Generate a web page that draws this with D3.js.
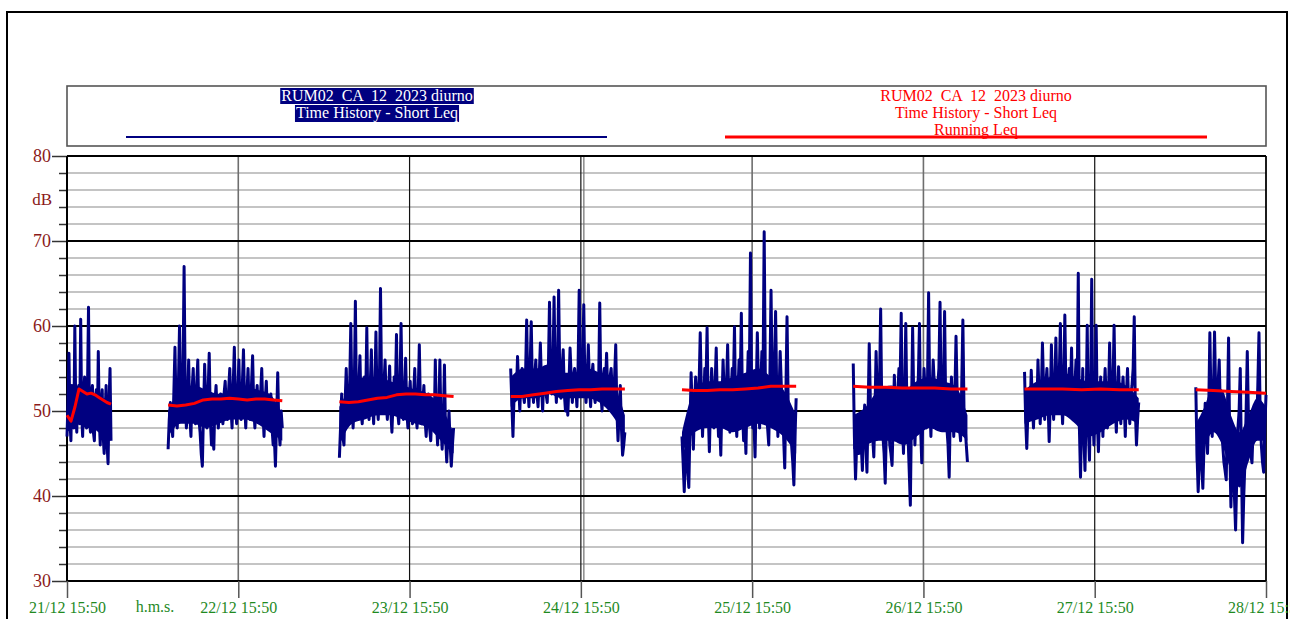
<!DOCTYPE html>
<html>
<head>
<meta charset="utf-8">
<script src="https://cdn.jsdelivr.net/npm/d3@7"></script>
<style>
body { margin: 0; background: #fff; }
svg { display: block; font-family: "Liberation Serif", "Times New Roman", serif; }
</style>
</head>
<body>
<div class="svg-container"></div>
<script>
// day periods (06:00-22:00), first and last cut by the measure window
var segStarts = ["2023-12-21 15:50", "2023-12-22 06:00", "2023-12-23 06:00", "2023-12-24 06:00",
                 "2023-12-25 06:00", "2023-12-26 06:00", "2023-12-27 06:00", "2023-12-28 06:00"];
var segEnds   = ["2023-12-21 22:00", "2023-12-22 22:00", "2023-12-23 22:00", "2023-12-24 22:00",
                 "2023-12-25 22:00", "2023-12-26 22:00", "2023-12-27 22:00", "2023-12-28 15:50"];

// Short Leq, dB
var shortLeq1 = [47, 51, 56.8, 49, 46.5, 53, 52, 48, 60, 50, 47.5, 52.5, 53, 48.5, 60.8, 49.5, 47, 52, 54, 48.5, 48, 53, 62.2, 49,
                 47.5, 52, 53, 47.5, 46.5, 51.5, 52.5, 48, 57, 49, 46, 51, 52.5, 47, 45, 50, 53, 46, 43.8, 51, 55, 46.5];
var shortLeq2 = [45.5, 49, 51, 48.5, 47, 52, 57.5, 50, 48, 53, 60, 51, 49, 54, 67, 52, 48, 51, 56, 49.5, 47, 52.5, 55, 50, 48.5,
                 53, 56, 49, 47.5, 45, 43.5, 50, 55.5, 51, 48, 52, 56.8, 49, 46, 48, 45.5, 51, 53, 49.5, 48, 51.5, 52, 50, 48.5, 52,
                 53.5, 50, 49, 52.5, 55, 50.5, 48, 53, 57.5, 51, 48.5, 52, 56, 50, 49, 53, 57.2, 51, 48, 52, 55, 50, 49, 53, 56.5,
                 50.5, 48, 51, 53, 49.5, 49, 52, 55, 50, 47, 51, 53.5, 49, 48, 51, 52, 48, 46, 47, 43.5, 49, 54.5, 48, 46, 50, 48];
var shortLeq3 = [44.5, 48, 52, 47, 46, 51, 55, 50, 49, 53, 60.3, 51, 48, 52, 62.9, 50, 49, 53, 56.5, 50, 48.5, 52, 54, 51, 59.8,
                 50, 49, 53, 57.2, 51, 48.5, 52.5, 59.3, 51, 49, 53, 64.4, 52, 50, 53, 56, 51, 49, 52, 55.3, 50, 47.5, 51, 54, 52,
                 59, 50, 48.5, 53, 60.3, 51, 49, 52, 56.2, 50, 48, 51, 53.5, 50, 48.5, 52, 55, 50, 48, 52, 57.8, 50, 48.5, 51, 53,
                 49, 47, 50, 52, 48, 46.5, 50, 51, 48, 56, 49, 46, 50, 56, 48, 45.5, 49, 55.4, 47, 44, 47, 50, 46, 43.5, 46, 48];
var shortLeq4 = [55, 51, 47, 52, 54, 52, 56.4, 53, 50, 54, 55, 52, 51, 54, 60.7, 53, 50.5, 55, 60.5, 53, 51, 54, 56, 52, 50.5,
                 54, 58, 53, 50, 54, 55, 52, 51, 55, 62.8, 54, 52, 55, 63.4, 54, 51, 55, 64.2, 54, 51.5, 55, 57.2, 52, 50, 53,
                 49.5, 53, 57.4, 54, 51, 54, 55, 53, 50.5, 55, 64.2, 54, 52, 55, 62.5, 53, 51, 54, 57.8, 53, 50.5, 54, 55.5, 52, 51,
                 54, 54, 53, 62.7, 52, 50, 54, 55, 53, 56.8, 52, 51, 54, 55, 52, 50, 54, 57.8, 50, 46.5, 50, 53, 48, 44.8, 46, 47.5];
var shortLeq5 = [47, 44, 40.5, 45, 47.5, 43, 41, 48, 54.5, 50, 45.5, 51, 54, 52, 48, 53, 59.2, 52, 47, 51, 55, 53, 59.8, 50, 45.2,
                 51, 55, 52, 48, 53, 57.4, 51, 47, 49, 44.8, 51, 56, 52, 48, 53, 57.8, 51, 47.5, 52, 55, 53, 59.9, 50, 47, 52,
                 56, 53, 61.5, 50, 46.5, 49, 45, 52, 57, 54, 68.6, 52, 48, 49, 44.6, 52, 59.2, 53, 48, 53, 57, 54, 71.1, 54, 50,
                 48, 46, 54, 64.2, 53, 49, 55, 61.7, 52, 47, 52, 57, 53, 50, 47, 43.3, 52, 61.1, 51, 48, 50, 46, 44, 41.3, 47, 51.5];
var shortLeq6 = [55.6, 47, 42, 46, 48, 45, 47, 46, 43, 48, 50.7, 46, 42.8, 50, 57.9, 51, 48, 47, 44.6, 50, 57, 52, 49, 53, 62,
                 50, 47, 45, 41.5, 48, 52, 49, 46, 45, 43.6, 49, 54.2, 50, 47, 52, 55, 53, 61.5, 49, 45, 52, 60.3, 50, 47, 43,
                 38.9, 50, 59.8, 51, 46, 50, 52, 54, 60.3, 48, 43.9, 50, 55, 52, 48, 53, 63.9, 51, 47, 52, 56, 53, 50, 52, 53,
                 55, 62.8, 51, 49, 53, 61.7, 50, 48, 46, 42.2, 50, 54, 51, 47, 52, 58.8, 52, 50, 48, 46.5, 53, 60.7, 50, 48, 46, 44];
var shortLeq7 = [54.6, 49, 45.6, 50, 52, 50, 54.8, 51, 48, 52, 53, 50, 56, 52, 48.5, 52, 58, 53, 49, 53, 55, 51, 46.4, 51, 57.8,
                 52, 49, 53, 58.6, 52, 50, 54, 60.3, 52, 48.5, 53, 61.3, 52, 50, 53, 55, 52, 57.4, 51, 49, 53, 56, 52, 66.2, 48,
                 42.2, 49, 55, 47, 43, 50, 60.1, 48, 44.2, 52, 65.5, 50, 46, 51, 60.1, 49, 45.2, 50, 54, 51, 47, 52, 55, 51, 48,
                 52, 58, 52, 49, 53, 60.1, 51, 47.5, 52, 55.2, 51, 48.5, 52, 54, 51, 47, 52, 55, 51, 48.5, 52, 53, 55, 61.1, 50, 46, 49, 51];
var shortLeq8 = [52.8, 45, 40.5, 44, 48.6, 44, 40.9, 46, 50.9, 48, 45, 50, 59.2, 51, 47, 52, 59.3, 52, 49, 53, 56, 50, 48, 46, 44,
                 43, 41.9, 50, 58.6, 46, 38.7, 44, 46, 40, 36, 42, 48, 50, 55, 44, 34.5, 40, 44, 50, 57, 49, 46, 45, 43.9, 48,
                 50, 49, 48, 53, 59.2, 50, 46, 44, 42.8, 48, 51.9];

// dense core of the Short Leq trace (where the samples overlap into a solid band), dB
var coreLow  = [[47.5, 48, 48.5, 48, 48, 47.5, 47, 46.5],
                [47, 48.5, 48.5, 48, 48.5, 49, 49, 48.5, 47.5, 46.5],
                [46, 48.5, 49, 49.5, 49.5, 49, 48.5, 48, 46.5, 45],
                [50.5, 51.5, 51.5, 52, 51.5, 51.5, 51.5, 51, 49.5, 47],
                [45, 47.5, 48, 48, 47.5, 48, 48.5, 48, 47, 45],
                [45.5, 46, 46.5, 46.5, 46, 47, 48, 47.5, 47.5, 46.5],
                [48.5, 49, 49.5, 49.5, 48.5, 47, 47.5, 48.5, 49, 48.5],
                [44, 46, 47.5, 46, 43, 41, 44, 46.5, 46.5]];
var coreHigh = [[51.5, 52.5, 53, 52.5, 52, 51.5, 51.5, 50.5],
                [50, 52.5, 53, 52.5, 52, 52.5, 53, 52.5, 52, 49.5],
                [50.5, 53, 54, 54, 53.5, 53, 52.5, 52, 50.5, 47.5],
                [54, 55, 55, 55.5, 54.5, 54.5, 55, 54.5, 53.5, 49.5],
                [47.5, 52.5, 53.5, 53.5, 54, 54.5, 55, 54, 52.5, 49.5],
                [49.5, 50.5, 52.5, 53, 52.5, 53.5, 54, 53.5, 53, 49.5],
                [52.5, 53.5, 54, 54.5, 54, 53.5, 53.5, 53.5, 53, 51.5],
                [48.5, 50.5, 53, 52.5, 49.5, 47.5, 49.5, 51.5, 50.5]];

// Running Leq, dB
var runLeq1 = [49.5, 48.8, 50.5, 52.6, 52.3, 52.0, 52.1, 51.9, 51.6, 51.3, 51.0, 50.8];
var runLeq2 = [50.7, 50.6, 50.7, 50.9, 51.3, 51.4, 51.4, 51.5, 51.4, 51.3, 51.4, 51.4, 51.3, 51.2];
var runLeq3 = [51.1, 51.0, 51.1, 51.3, 51.5, 51.6, 51.9, 52.0, 52.0, 51.9, 51.9, 51.8, 51.7];
var runLeq4 = [51.7, 51.7, 51.9, 52.1, 52.3, 52.4, 52.5, 52.5, 52.6, 52.6, 52.6];
var runLeq5 = [52.5, 52.4, 52.4, 52.5, 52.5, 52.6, 52.7, 52.9, 52.9, 52.9];
var runLeq6 = [52.9, 52.8, 52.8, 52.7, 52.7, 52.7, 52.6, 52.6];
var runLeq7 = [52.6, 52.6, 52.6, 52.5, 52.6, 52.5, 52.5];
var runLeq8 = [52.5, 52.4, 52.3, 52.2, 52.1];

var shortLeq = [shortLeq1, shortLeq2, shortLeq3, shortLeq4, shortLeq5, shortLeq6, shortLeq7, shortLeq8];
var runLeq = [runLeq1, runLeq2, runLeq3, runLeq4, runLeq5, runLeq6, runLeq7, runLeq8];

var xTickDates = ["2023-12-21 15:50", "2023-12-22 15:50", "2023-12-23 15:50", "2023-12-24 15:50",
                  "2023-12-25 15:50", "2023-12-26 15:50", "2023-12-27 15:50", "2023-12-28 15:50"];
var yMajor = [30, 40, 50, 60, 70, 80];
var yMinor = [32, 34, 36, 38, 42, 44, 46, 48, 52, 54, 56, 58, 62, 64, 66, 68, 72, 74, 76, 78];

var legendTitle = "RUM02  CA  12  2023 diurno";
var legendSub = "Time History - Short Leq";
var legendRun = "Running Leq";

var parse = d3.timeParse("%Y-%m-%d %H:%M");

var width = 1290, height = 619;
var plotL = 67, plotR = 1266, plotT = 156, plotB = 581;
var navy = "#000080", red = "#ff0000", axisRed = "#8b1a1a", green = "#1f8a1f";

var svg = d3.select(".svg-container").append("svg")
    .attr("width", width)
    .attr("height", height);

// outer frame
svg.append("rect")
    .attr("x", 7).attr("y", 12)
    .attr("width", 1280).attr("height", 700)
    .attr("fill", "none").attr("stroke", "#000").attr("stroke-width", 2);

var x = d3.scaleTime()
    .domain([parse(xTickDates[0]), parse(xTickDates[xTickDates.length - 1])])
    .range([plotL, plotR]);
var y = d3.scaleLinear().domain([30, 80]).range([plotB, plotT]);

// horizontal grid
svg.append("g").selectAll("line").data(yMinor).join("line")
    .attr("x1", plotL).attr("x2", plotR)
    .attr("y1", d => y(d)).attr("y2", d => y(d))
    .attr("stroke", "#c4c4c4").attr("stroke-width", 2);

// vertical grid (some lines drawn gray, some black in the original)
var grayDays = [1, 4, 5];
svg.append("g").selectAll("line").data(xTickDates.slice(1)).join("line")
    .attr("x1", d => x(parse(d))).attr("x2", d => x(parse(d)))
    .attr("y1", plotT).attr("y2", plotB)
    .attr("stroke", (d, i) => grayDays.indexOf(i + 1) >= 0 ? "#6e6e6e" : "#111")
    .attr("stroke-width", (d, i) => grayDays.indexOf(i + 1) >= 0 ? 1.6 : 1.2);
// double line at 24/12
svg.append("line")
    .attr("x1", x(parse(xTickDates[3])) + 3).attr("x2", x(parse(xTickDates[3])) + 3)
    .attr("y1", plotT).attr("y2", plotB)
    .attr("stroke", "#6e6e6e").attr("stroke-width", 1.2);

svg.append("g").selectAll("line").data(yMajor).join("line")
    .attr("x1", plotL).attr("x2", plotR)
    .attr("y1", d => y(d)).attr("y2", d => y(d))
    .attr("stroke", "#000").attr("stroke-width", 2.2);

// Y axis
var yAxisMinor = svg.append("g")
    .attr("transform", "translate(" + plotL + ",0)")
    .call(d3.axisLeft(y).tickValues(yMinor).tickSize(8).tickFormat(""));
var yAxis = svg.append("g")
    .attr("transform", "translate(" + plotL + ",0)")
    .call(d3.axisLeft(y).tickValues(yMajor).tickSize(15).tickPadding(1).tickFormat(d3.format("d")));
[yAxisMinor, yAxis].forEach(function(g) {
    g.select(".domain").remove();
    g.selectAll(".tick line").attr("stroke", "#333").attr("stroke-width", 1.5);
});
yAxis.selectAll(".tick text")
    .attr("fill", axisRed)
    .style("font-size", "18px")
    .style("font-family", "Liberation Serif, serif");

svg.append("text")
    .attr("x", 52).attr("y", 205)
    .attr("text-anchor", "end")
    .attr("fill", axisRed)
    .style("font-size", "17px")
    .text("dB");

svg.append("line")
    .attr("x1", plotL).attr("x2", plotL)
    .attr("y1", plotT).attr("y2", plotB)
    .attr("stroke", "#000").attr("stroke-width", 2);
svg.append("line")
    .attr("x1", plotR).attr("x2", plotR)
    .attr("y1", plotT).attr("y2", plotB)
    .attr("stroke", "#000").attr("stroke-width", 1.5);

// X axis
var xAxis = svg.append("g")
    .attr("transform", "translate(0," + plotB + ")")
    .call(d3.axisBottom(x)
        .tickValues(xTickDates.map(parse))
        .tickSize(17)
        .tickPadding(4)
        .tickFormat(d3.timeFormat("%d/%m %H:%M")));
xAxis.select(".domain").remove();
xAxis.selectAll(".tick line").attr("stroke", "#555").attr("stroke-width", 1.5);
xAxis.selectAll(".tick text")
    .attr("fill", green)
    .style("font-size", "16px")
    .style("font-family", "Liberation Serif, serif");

svg.append("text")
    .attr("x", 155).attr("y", 612)
    .attr("text-anchor", "middle")
    .attr("fill", green)
    .style("font-size", "16px")
    .text("h.m.s.");

// series
function segTimes(n, i) {
    var t0 = parse(segStarts[i]).getTime();
    var t1 = parse(segEnds[i]).getTime();
    var step = (t1 - t0) / (n - 1);
    return d3.range(n).map(function(k) { return new Date(t0 + k * step); });
}
function segPoints(values, i) {
    var ts = segTimes(values.length, i);
    return values.map(function(v, k) { return { t: ts[k], v: v }; });
}

var line = d3.line()
    .x(function(d) { return x(d.t); })
    .y(function(d) { return y(d.v); });

var core = d3.area()
    .curve(d3.curveMonotoneX)
    .x(function(d) { return x(d.t); })
    .y0(function(d) { return y(d.lo); })
    .y1(function(d) { return y(d.hi); });

svg.append("g").selectAll("path").data(coreLow).join("path")
    .attr("d", function(lo, i) {
        var ts = segTimes(lo.length, i);
        return core(lo.map(function(v, k) { return { t: ts[k], lo: v, hi: coreHigh[i][k] }; }));
    })
    .attr("fill", navy);

svg.append("g").selectAll("path").data(shortLeq).join("path")
    .attr("d", (d, i) => line(segPoints(d, i)))
    .attr("fill", "none")
    .attr("stroke", navy)
    .attr("stroke-width", 3)
    .attr("stroke-linejoin", "round");

svg.append("g").selectAll("path").data(runLeq).join("path")
    .attr("d", (d, i) => line(segPoints(d, i)))
    .attr("fill", "none")
    .attr("stroke", red)
    .attr("stroke-width", 3)
    .attr("stroke-linejoin", "round");

// Legend
svg.append("rect")
    .attr("x", plotL).attr("y", 86)
    .attr("width", plotR - plotL).attr("height", 60)
    .attr("fill", "none").attr("stroke", "#555").attr("stroke-width", 1.6);

function legendLines(cx, lines, color, bg) {
    var g = svg.append("g");
    lines.forEach(function(txt, i) {
        var t = g.append("text")
            .attr("x", cx).attr("y", 101 + i * 17)
            .attr("text-anchor", "middle")
            .attr("fill", color)
            .style("font-size", "16px")
            .style("white-space", "pre")
            .text(txt);
        var b = t.node().getBBox();
        g.insert("rect", "text")
            .attr("x", b.x - 1).attr("y", b.y + 1)
            .attr("width", b.width + 2).attr("height", b.height - 1)
            .attr("fill", bg);
    });
}
legendLines(377, [legendTitle, legendSub], "#fff", navy);
legendLines(976, [legendTitle, legendSub, legendRun], red, "#fff");

svg.append("line")
    .attr("x1", 126).attr("x2", 607).attr("y1", 137).attr("y2", 137)
    .attr("stroke", navy).attr("stroke-width", 2);
svg.append("line")
    .attr("x1", 725).attr("x2", 1207).attr("y1", 137).attr("y2", 137)
    .attr("stroke", red).attr("stroke-width", 3);
</script>
</body>
</html>
